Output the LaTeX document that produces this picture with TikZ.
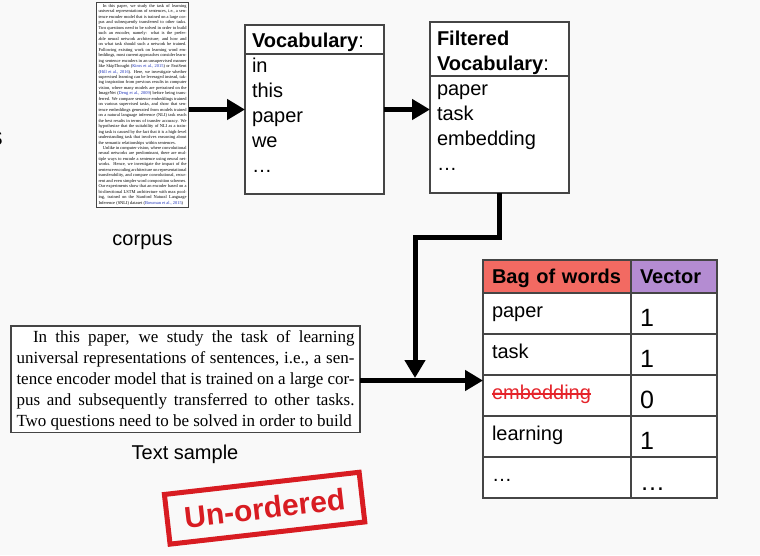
\documentclass[tikz,border=0pt]{standalone}
\usepackage{fontspec}
\setmainfont{Liberation Sans}
\newfontfamily\timesfont{Liberation Serif}
\usepackage{xcolor}
\usepackage{tikz}
\usetikzlibrary{arrows.meta,positioning}
\definecolor{bowbg}{HTML}{F9F9F9}
\definecolor{bowgray}{HTML}{454545}
\definecolor{bowred}{HTML}{F26A62}
\definecolor{bowviolet}{HTML}{B48CD2}
\definecolor{bowstrike}{HTML}{E5232A}
\definecolor{bowstamp}{HTML}{D81C22}
\definecolor{bowcite}{HTML}{1A2FB8}
\newcommand{\corpuscite}[1]{\textcolor{bowcite}{#1}}
\newcommand{\topgap}[1]{\rule{0pt}{#1}}
\newcommand{\botgap}[1]{\rule[-#1]{0pt}{#1}}
\newcommand{\crossout}[1]{\setbox0\hbox{#1}\rlap{\rule[4.4pt]{\wd0}{1.3pt}}\box0}
\tolerance=9999
\hbadness=10000

\begin{document}
\begin{tikzpicture}[
  x=1pt, y=-1pt,
  paper/.style={draw=bowgray, line width=1pt, fill=white, outer sep=0pt,
                inner xsep=2pt, inner ysep=0pt, text width=88pt, align=justify,
                font=\timesfont\fontsize{4.42}{5.46}\selectfont},
  sample/.style={draw=bowgray, line width=1.2pt, fill=white, outer sep=0pt,
                 inner xsep=5.5pt, inner ysep=0pt, text width=338pt, align=justify,
                 font=\timesfont\fontsize{17}{21}\selectfont},
  vocab/.style={draw=bowgray, line width=1.2pt, fill=white, outer sep=0pt,
                inner xsep=7pt, inner ysep=0pt, text width=125pt, align=left,
                font=\fontsize{20}{25}\selectfont},
  caption/.style={font=\fontsize{20}{24}\selectfont},
  bowcell/.style={draw=bowgray, line width=1.2pt, fill=white, outer sep=0pt,
                  inner xsep=9pt, inner ysep=0pt, minimum height=41pt, align=left},
  wordcell/.style={bowcell, minimum width=148pt, text width=130pt,
                   text height=11pt, text depth=4pt, font=\fontsize{20}{24}\selectfont},
  numcell/.style={bowcell, minimum width=86pt, text width=68pt,
                  text height=25pt, text depth=0pt, font=\fontsize{25}{30}\selectfont},
  headcell/.style={minimum height=33pt, text height=15pt, text depth=1.5pt,
                   font=\bfseries\fontsize{20}{24}\selectfont},
  stamp/.style={draw=bowstamp, line width=5pt, text=bowstamp, inner sep=0pt,
                minimum width=196pt, minimum height=50pt,
                font=\bfseries\fontsize{30}{36}\selectfont},
  arrow/.style={-{Triangle[length=18pt,width=20pt]}, line width=5pt, draw=black}
]
\path[use as bounding box, fill=bowbg] (0,0) rectangle (760,555);
\begin{scope}
  \clip (0,0) rectangle (760,555);
  \node[caption, anchor=base east, inner sep=0pt] (cut) at (3,145) {S};
\end{scope}

\node[paper, anchor=north west] (page) at (96.5,2) {\noindent\hspace*{4.4pt}\topgap{5.5pt}In this paper, we study the task of learning\linebreak
universal representations of sentences, i.e., a sen-\linebreak
tence encoder model that is trained on a large cor-\linebreak
pus and subsequently transferred to other tasks.\linebreak
Two questions need to be solved in order to build\linebreak
such an encoder, namely: what is the prefer-\linebreak
able neural network architecture; and how and\linebreak
on what task should such a network be trained.\linebreak
Following existing work on learning word em-\linebreak
beddings, most current approaches consider learn-\linebreak
ing sentence encoders in an unsupervised manner\linebreak
like SkipThought (\corpuscite{Kiros et~al., 2015}) or FastSent\linebreak
(\corpuscite{Hill et~al., 2016}). Here, we investigate whether\linebreak
supervised learning can be leveraged instead, tak-\linebreak
ing inspiration from previous results in computer\linebreak
vision, where many models are pretrained on the\linebreak
ImageNet (\corpuscite{Deng et~al., 2009}) before being trans-\linebreak
ferred. We compare sentence embeddings trained\linebreak
on various supervised tasks, and show that sen-\linebreak
tence embeddings generated from models trained\linebreak
on a natural language inference (NLI) task reach\linebreak
the best results in terms of transfer accuracy. We\linebreak
hypothesize that the suitability of NLI as a train-\linebreak
ing task is caused by the fact that it is a high-level\linebreak
understanding task that involves reasoning about\linebreak
the semantic relationships within sentences.\par
\noindent\hspace*{4.4pt}Unlike in computer vision, where convolutional\linebreak
neural networks are predominant, there are mul-\linebreak
tiple ways to encode a sentence using neural net-\linebreak
works. Hence, we investigate the impact of the\linebreak
sentence encoding architecture on representational\linebreak
transferability, and compare convolutional, recur-\linebreak
rent and even simpler word composition schemes.\linebreak
Our experiments show that an encoder based on a\linebreak
bi-directional LSTM architecture with max pool-\linebreak
ing, trained on the Stanford Natural Language\linebreak
Inference (SNLI) dataset (\corpuscite{Bowman et~al., 2015})\botgap{3.8pt}\parfillskip=0pt}; 
\node[caption, anchor=base] (corpus) at (142.5,245) {corpus};

\node[vocab, anchor=north west] (vocab) at (245,25) {\topgap{22pt}\textbf{Vocabulary}:\\in\\this\\paper\\we\\…\botgap{22pt}};
\node[vocab, anchor=north west] (filt) at (430,22) {\topgap{23.5pt}\textbf{Filtered}\\\textbf{Vocabulary}:\\paper\\task\\embedding\\…\botgap{22.5pt}};
\draw[draw=bowgray, line width=1.2pt] ([yshift=-29pt]vocab.north west) -- ([yshift=-29pt]vocab.north east);
\draw[draw=bowgray, line width=1.2pt] ([yshift=-54pt]filt.north west) -- ([yshift=-54pt]filt.north east);

\node[sample, anchor=north west] (sample) at (11,326) {\noindent\hspace*{16.5pt}\topgap{16.3pt}In this paper, we study the task of learning\linebreak
universal representations of sentences, i.e., a sen-\linebreak
tence encoder model that is trained on a large cor-\linebreak
pus and subsequently transferred to other tasks.\linebreak
Two questions need to be solved in order to build\botgap{6.4pt}\parfillskip=0pt};
\node[caption, anchor=base] (samplecap) at (185,459) {Text sample};

\node[wordcell, headcell, fill=bowred, anchor=north west] (bag) at (483,260) {Bag of words};
\node[numcell, headcell, fill=bowviolet, right=0pt of bag] (vec) {Vector};
\node[wordcell, below=0pt of bag] (w1) {paper};
\node[numcell, right=0pt of w1] (n1) {1};
\node[wordcell, below=0pt of w1] (w2) {task};
\node[numcell, right=0pt of w2] (n2) {1};
\node[wordcell, below=0pt of w2] (w3) {\textcolor{bowstrike}{\crossout{embedding}}};
\node[numcell, right=0pt of w3] (n3) {0};
\node[wordcell, below=0pt of w3] (w4) {learning};
\node[numcell, right=0pt of w4] (n4) {1};
\node[wordcell, below=0pt of w4] (w5) {…};
\node[numcell, right=0pt of w5] (n5) {…};

\coordinate (bend) at (415,237);
\coordinate (join) at (415,378);
\draw[arrow] (vocab.west -| page.east) -- (vocab.west);
\draw[arrow] (vocab.east) -- (vocab.east -| filt.west);
\draw[arrow] (filt.south) |- (bend) -- (join);
\draw[arrow] (sample.east |- 0,380.5) -- (w1.west |- 0,380.5);

\node[stamp, rotate=6.5] (unordered) at (264.6,508.2) {Un-ordered};
\end{tikzpicture}
\end{document}
